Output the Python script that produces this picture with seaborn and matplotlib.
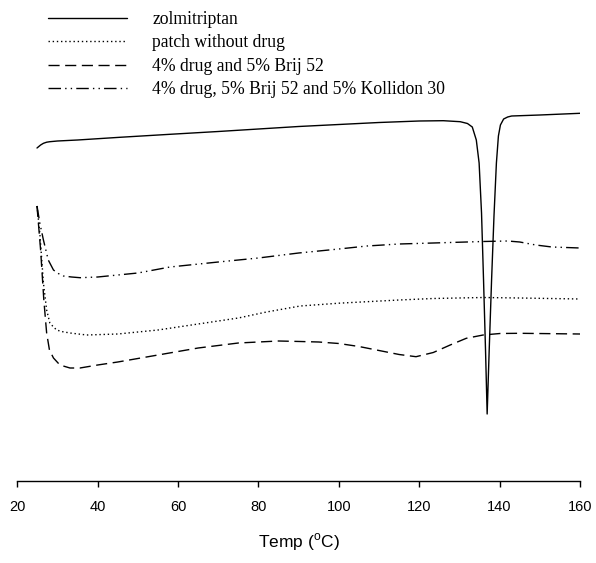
import numpy as np
import pandas as pd
import seaborn as sns
import matplotlib
matplotlib.use("Agg")
import matplotlib.pyplot as plt

# ---- data (arbitrary heat-flow units) ----
zol_T = [24.9, 25.8, 26.5, 27.3, 28.1, 30, 35, 45.5, 58, 70, 80, 90, 100, 110, 120, 126,
         130.2, 132, 133.2, 134.2, 134.9, 135.5, 136.0, 136.5, 136.9, 137.4, 138.0, 138.6,
         139.2, 139.7, 140.2, 141.0, 142.0, 143.0, 150, 160]
zol_v = [333, 336, 337.7, 338.8, 339.3, 340, 341, 343.7, 346.7, 349.5, 352, 354.5, 356.5,
         358.5, 360, 360.3, 359.3, 357.5, 354, 341, 318, 268, 201, 130, 67, 130, 201, 265,
         318, 345, 356, 362, 364, 365, 366, 367.7]

patch_T = [24.9, 25.6, 26.5, 27.3, 28.1, 29.0, 29.8, 31.0, 33.1, 37.3, 45, 55, 65, 75, 82,
           90.4, 100, 107, 115, 123.5, 135.9, 145, 160]
patch_v = [275, 248, 198, 171, 158, 154, 151, 149.5, 148, 146, 147, 151, 157, 163, 169,
           175, 177.8, 179.3, 181, 182.5, 183.5, 183, 182]

brij_T = [24.9, 25.8, 26.6, 27.3, 28.0, 29.0, 30.6, 33.1, 35.6, 40, 45, 55, 65, 75, 85,
          90.4, 95, 100, 105, 110, 115, 119.2, 123.5, 127.7, 131.7, 135.9, 140.1, 145, 160]
brij_v = [275, 231, 181, 148, 131, 123, 116, 113, 113, 116, 119, 126, 133, 138, 140,
          139.5, 139, 137.5, 134.5, 130.5, 126.5, 124.3, 128.5, 136, 142.7, 146, 147.5,
          147.7, 147]

koll_T = [24.9, 25.6, 26.5, 27.7, 29.0, 30.2, 31.5, 33.5, 35.6, 40, 50, 58, 70, 80, 90,
          100, 107, 115, 123.5, 135.9, 142, 145, 149, 153, 160]
koll_v = [275, 258, 241, 221, 211, 207.5, 205, 204, 203.3, 204, 208, 214, 219, 223, 228,
          232, 235, 237, 238, 239.5, 240, 239, 236, 234, 233]

labels = ["zolmitriptan", "patch without drug", "4% drug and 5% Brij 52",
          "4% drug, 5% Brij 52 and 5% Kollidon 30"]
x_ticks = [20, 40, 60, 80, 100, 120, 140, 160]

sns.set_style("white")
plt.rcParams["font.family"] = ["Liberation Sans", "DejaVu Sans"]
plt.rcParams["mathtext.fontset"] = "custom"
plt.rcParams["mathtext.rm"] = "Liberation Sans"
plt.rcParams["text.color"] = "black"
plt.rcParams["axes.labelcolor"] = "black"
plt.rcParams["xtick.color"] = "black"
plt.rcParams["xtick.labelcolor"] = "black"

fig = plt.figure(figsize=(5.96, 5.63), dpi=100)
ax = fig.add_axes([17.3 / 596, 1 - 481 / 563, (580 - 17.3) / 596, 481 / 563])

series = [
    (zol_T, zol_v, "-"),
    (patch_T, patch_v, (0, (1, 2))),
    (brij_T, brij_v, (0, (8, 4))),
    (koll_T, koll_v, (0, (9, 3, 1, 3, 1, 3))),
]
handles = []
for (T, v, ls), lab in zip(series, labels):
    df = pd.DataFrame({"T": T, "v": v})
    sns.lineplot(data=df, x="T", y="v", ax=ax, color="black", linewidth=1.0,
                 linestyle=ls, label=lab, legend=False)
    handles.append(ax.lines[-1])

ax.set_xlim(20, 160)
ax.set_ylim(0, 481)
ax.set_xticks(x_ticks)
ax.set_xticklabels([str(t) for t in x_ticks], fontsize=10.5, color="black")
ax.set_yticks([])
ax.set_ylabel("")
ax.set_xlabel(r"Temp ($^{\mathrm{o}}$C)", fontsize=12.5, labelpad=12, color="black")
for s in ["left", "right", "top"]:
    ax.spines[s].set_visible(False)
ax.spines["bottom"].set_color("black")
ax.spines["bottom"].set_linewidth(1.0)
ax.tick_params(axis="x", direction="out", length=4, width=1, color="black",
               pad=10, bottom=True)

leg = fig.legend(handles, labels, loc="upper left",
                 bbox_to_anchor=(48 / 596, 1 - 11 / 563), frameon=False,
                 prop={"family": "Liberation Serif", "size": 12.7},
                 handlelength=4.5, handletextpad=1.4, labelspacing=0.36,
                 borderpad=0, borderaxespad=0)
for t in leg.get_texts():
    t.set_color("black")

fig.savefig("out.png", dpi=100)
